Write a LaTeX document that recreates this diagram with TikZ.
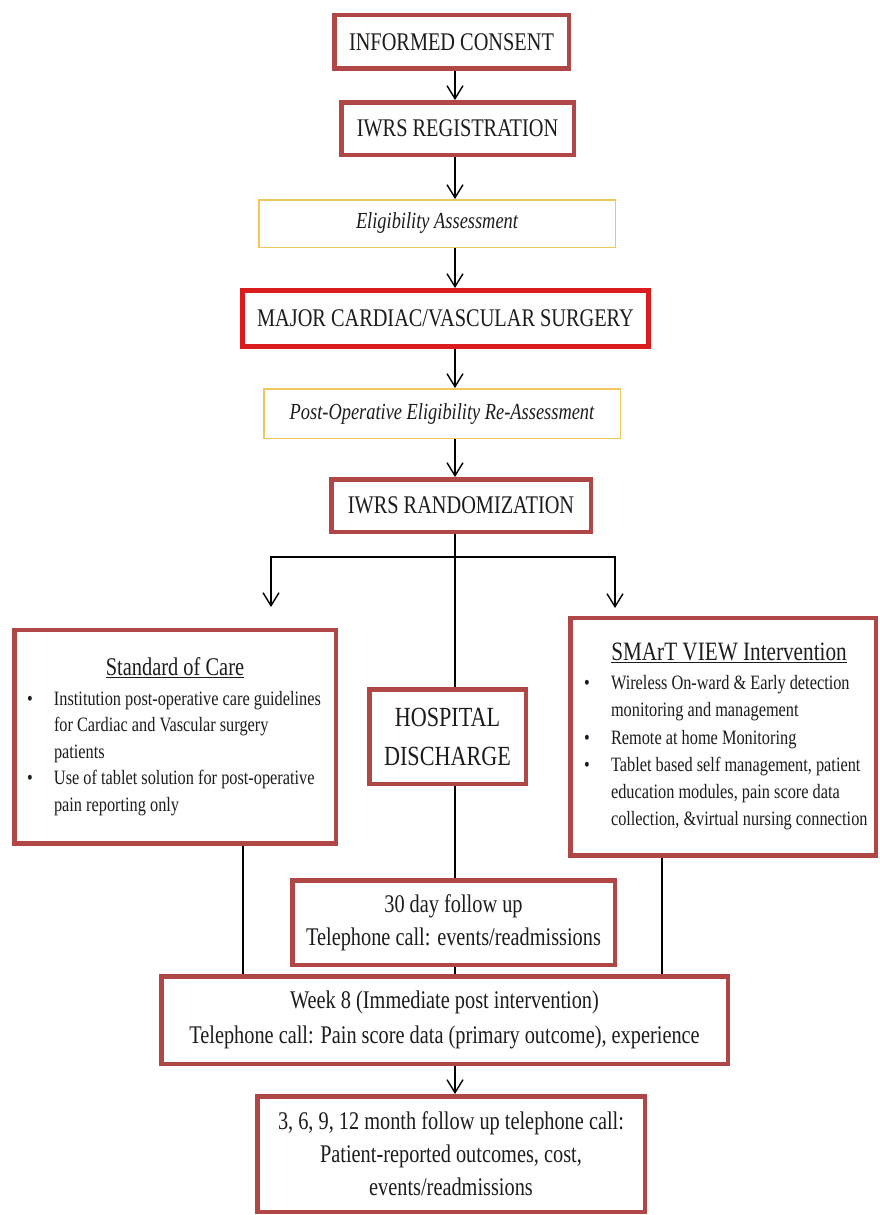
\documentclass[tikz,border=0pt]{standalone}
\usepackage{fontspec}
\setmainfont{Liberation Serif}[FakeStretch=0.8]
\usetikzlibrary{arrows.meta, positioning}
\definecolor{boxred}{RGB}{176,70,70}
\definecolor{hotred}{RGB}{218,28,28}
\definecolor{lineyellow}{RGB}{240,200,90}
\definecolor{inkgray}{RGB}{28,28,28}
\newcommand{\bulletline}[1]{\par\noindent\hangindent=27pt\hangafter=1\makebox[27pt][l]{\textbullet}{\let\\\newline #1}}

\begin{document}
\begin{tikzpicture}[x=1pt, y=-1pt,
  every node/.style={align=center, inner sep=0pt, text=inkgray},
  stepbox/.style={rectangle, draw=boxred, line width=4.5pt, fill=white, font=\fontsize{25.4}{33}\selectfont},
  surgerybox/.style={stepbox, draw=hotred, line width=5pt},
  checkbox/.style={rectangle, draw=lineyellow, line width=1.5pt, fill=white, font=\fontsize{23}{28}\selectfont\itshape},
  arrow/.style={-{Straight Barb[length=13pt, width=16pt]}, line width=1.4pt},
  link/.style={line width=1.4pt}
]
\useasboundingbox (0,0) rectangle (879,1215);
\fill[white] (0,0) rectangle (879,1215);

% Nodes
\node[stepbox, minimum width=234.5pt, minimum height=53.5pt] (consent) at (451.5,42) {INFORMED CONSENT};
\node[stepbox, minimum width=232.5pt, minimum height=52.5pt, below=29pt of consent, xshift=6pt] (registration) {IWRS REGISTRATION};
\node[checkbox, minimum width=356.5pt, minimum height=47.5pt, below=42pt of registration, xshift=-20.5pt] (eligibility) {Eligibility Assessment};
\node[surgerybox, minimum width=406pt, minimum height=56pt, below=40pt of eligibility, xshift=8.5pt] (surgery) {MAJOR CARDIAC/VASCULAR SURGERY};
\node[checkbox, minimum width=356.5pt, minimum height=49.5pt, below=39pt of surgery, xshift=-3.5pt] (reassess) {Post-Operative Eligibility Re-Assessment};
\node[stepbox, minimum width=259.5pt, minimum height=52.5pt, below=38pt of reassess, xshift=19pt] (randomize) {IWRS RANDOMIZATION};

\node[stepbox, minimum width=156.5pt, minimum height=94.5pt, below=153pt of randomize, xshift=-13.5pt, font=\fontsize{27.7}{39}\selectfont] (discharge) {HOSPITAL\\DISCHARGE};

\node[stepbox, minimum width=321.5pt, minimum height=213.5pt, left=29pt of discharge, font=\fontsize{20.4}{26.5}\selectfont] (care) {\begin{minipage}{310pt}\parindent=0pt
  {\centering\fontsize{25.5}{30}\selectfont\underline{Standard of Care}\par}\vspace{3pt}
  \raggedright\leftskip=7pt
  \bulletline{Institution post-operative care guidelines\\ for Cardiac and Vascular surgery\\ patients}
  \bulletline{Use of tablet solution for post-operative\\ pain reporting only}
\end{minipage}};
\node[stepbox, minimum width=305.5pt, minimum height=237.5pt, right=40pt of discharge, font=\fontsize{20.4}{27.2}\selectfont] (smart) {\begin{minipage}{300pt}\parindent=0pt
  {\centering\fontsize{26.5}{30}\selectfont\hspace*{12pt}\underline{SMArT VIEW Intervention}\par}\vspace{2pt}
  \raggedright\leftskip=11pt
  \bulletline{Wireless On-ward \& Early detection\\ monitoring and management}
  \bulletline{Remote at home Monitoring}
  \bulletline{Tablet based self management, patient\\ education modules, pain score data\\ collection, \&virtual nursing connection}
\end{minipage}};

\node[stepbox, minimum width=322.5pt, minimum height=84.5pt, below=92pt of discharge, xshift=6pt] (day30) {30 day follow up\\Telephone call: events/readmissions};
\node[stepbox, minimum width=566.5pt, minimum height=87.5pt, below=7pt of day30, xshift=-9pt] (week8) {Week 8 (Immediate post intervention)\\[2pt]Telephone call: Pain score data (primary outcome), experience};
\node[stepbox, minimum width=387.5pt, minimum height=115.5pt, below=28pt of week8, xshift=6.5pt] (month) {3, 6, 9, 12 month follow up telephone call:\\Patient-reported outcomes, cost,\\events/readmissions};

% Connectors
\coordinate (spine) at (455,0);
\coordinate (split) at (455,557);
\coordinate (toCare) at (271,607);
\coordinate (toSmart) at (615,608);
\coordinate (careleg) at (243,0);
\coordinate (smartleg) at (662,0);

\draw[arrow] (consent.south -| spine) -- (registration.north -| spine);
\draw[arrow] (registration.south -| spine) -- (eligibility.north -| spine);
\draw[arrow] (eligibility.south -| spine) -- (surgery.north -| spine);
\draw[arrow] (surgery.south -| spine) -- (reassess.north -| spine);
\draw[arrow] (reassess.south -| spine) -- (randomize.north -| spine);

\draw[link] (randomize.south -| spine) -- (split);
\draw[arrow] (split) -| (toCare);
\draw[arrow] (split) -| (toSmart);
\draw[link] (split) -- (discharge.north -| spine);
\draw[link] (discharge.south -| spine) -- (day30.north -| spine);
\draw[link] (day30.south -| spine) -- (week8.north -| spine);
\draw[link] (care.south -| careleg) -- (week8.north -| careleg);
\draw[link] (smart.south -| smartleg) -- (week8.north -| smartleg);
\draw[arrow] (week8.south -| spine) -- (month.north -| spine);

\end{tikzpicture}
\end{document}
